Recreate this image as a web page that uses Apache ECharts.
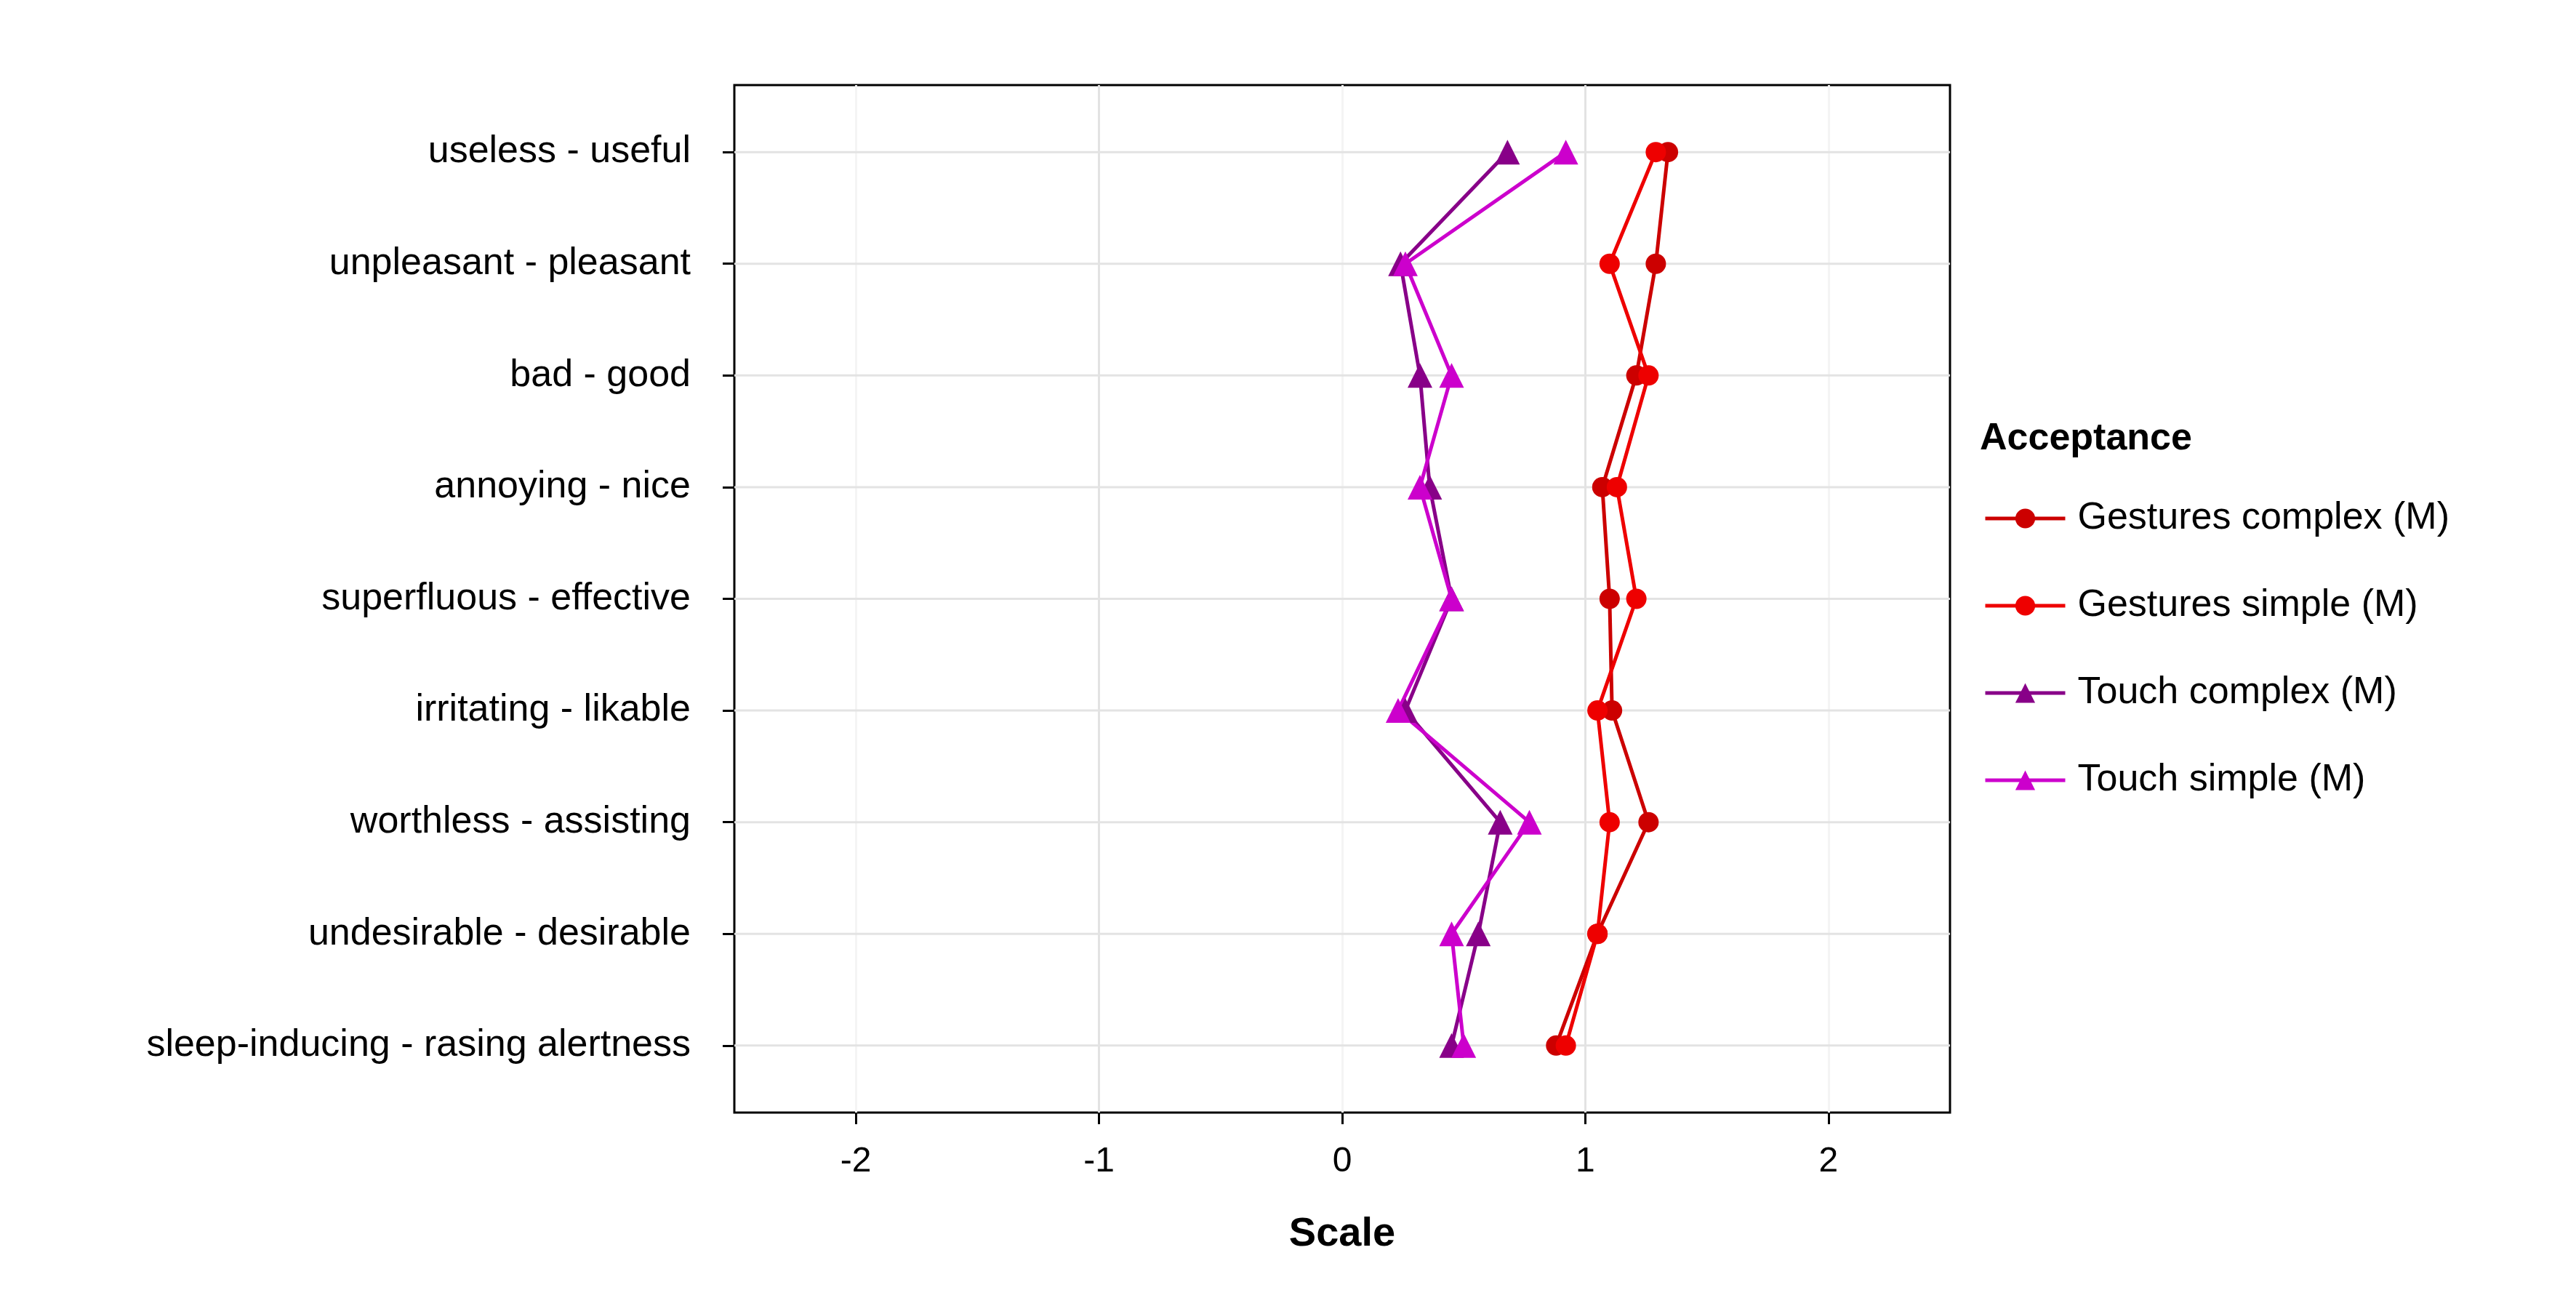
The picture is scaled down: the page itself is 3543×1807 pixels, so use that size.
<!DOCTYPE html>
<html>
<head>
<meta charset="UTF-8">
<script src="https://cdn.jsdelivr.net/npm/echarts@6/dist/echarts.min.js"></script>
<style>html,body{margin:0;background:#fff}#main{width:3543px;height:1807px}</style>
</head>
<body>
<div id="main"></div>
<script>
var categories = ['useless - useful', 'unpleasant - pleasant', 'bad - good', 'annoying - nice',
  'superfluous - effective', 'irritating - likable', 'worthless - assisting',
  'undesirable - desirable', 'sleep-inducing - rasing alertness'];
var gesturesComplex = [1.34, 1.29, 1.21, 1.07, 1.10, 1.11, 1.26, 1.05, 0.88];
var gesturesSimple  = [1.29, 1.10, 1.26, 1.13, 1.21, 1.05, 1.10, 1.05, 0.92];
var touchComplex    = [0.68, 0.24, 0.32, 0.36, 0.45, 0.26, 0.65, 0.56, 0.45];
var touchSimple     = [0.92, 0.26, 0.45, 0.32, 0.45, 0.23, 0.77, 0.45, 0.50];
var xTicks = [-2, -1, 0, 1, 2];
var yTicks = [0, 1, 2, 3, 4, 5, 6, 7, 8];

function pts(arr) { return arr.map(function (v, i) { return [v, i]; }); }
function mk(name, arr, color, symbol) {
  return { name: name, type: 'line', data: pts(arr), symbol: symbol, symbolSize: symbol === 'circle' ? 28 : 34,
    lineStyle: { width: 5, color: color }, itemStyle: { color: color } };
}
var font = 'Liberation Sans';
var myChart = echarts.init(document.getElementById('main'));
myChart.setOption({
  animation: false,
  textStyle: { fontFamily: font },
  grid: { left: 1010, right: 861, top: 117, bottom: 277, show: true, borderColor: '#000', borderWidth: 3, backgroundColor: '#fff' },
  xAxis: {
    type: 'value', min: -2.5, max: 2.5, interval: 0.5, position: 'bottom',
    name: 'Scale', nameLocation: 'middle', nameGap: 140,
    nameTextStyle: { fontSize: 56, fontWeight: 'bold', color: '#000' },
    axisLine: { show: false, onZero: false },
    axisTick: { show: true, length: 16, lineStyle: { color: '#000', width: 3 }, customValues: xTicks },
    axisLabel: { fontSize: 48, color: '#000', margin: 44, customValues: xTicks },
    splitLine: { lineStyle: { color: ['#f4f4f4', '#e3e3e3'], width: 3 } }
  },
  yAxis: {
    type: 'value', min: -0.6, max: 8.6, inverse: true, position: 'left',
    axisLine: { show: false, onZero: false },
    axisTick: { show: true, length: 16, lineStyle: { color: '#000', width: 3 }, customValues: yTicks },
    axisLabel: { fontSize: 52, color: '#000', margin: 60, customValues: yTicks,
      formatter: function (v) { return categories[Math.round(v)]; } },
    splitLine: { show: false }
  },
  legend: {
    orient: 'vertical', left: 2723, top: 682, itemWidth: 110, itemHeight: 34, itemGap: 68,
    textStyle: { fontSize: 52, color: '#000', fontFamily: font, padding: [0, 0, 0, 12] },
    lineStyle: { width: 5 },
    data: ['Gestures complex (M)', 'Gestures simple (M)', 'Touch complex (M)', 'Touch simple (M)']
  },
  graphic: [{ type: 'text', left: 2723, top: 578, style: { text: 'Acceptance', fontSize: 52, fontWeight: 'bold', fill: '#000', fontFamily: font } }],
  series: [
    // 横向网格线
    { type: 'custom', silent: true, z: 0, data: yTicks,
      renderItem: function (params, api) {
        var y = api.coord([0, api.value(0)])[1];
        var cs = params.coordSys;
        return { type: 'line', shape: { x1: cs.x, y1: y, x2: cs.x + cs.width, y2: y }, style: { stroke: '#e3e3e3', lineWidth: 3 } };
      } },
    mk('Gestures complex (M)', gesturesComplex, '#CC0000', 'circle'),
    mk('Gestures simple (M)', gesturesSimple, '#EE0000', 'circle'),
    mk('Touch complex (M)', touchComplex, '#880088', 'triangle'),
    mk('Touch simple (M)', touchSimple, '#CC00CC', 'triangle')
  ]
});
</script>
</body>
</html>
